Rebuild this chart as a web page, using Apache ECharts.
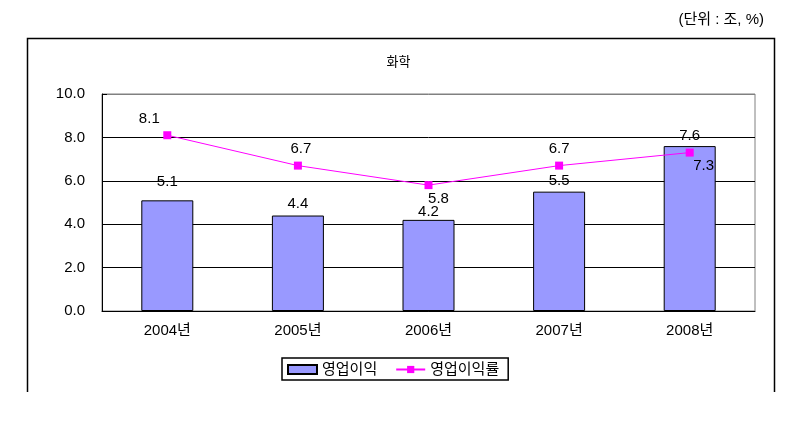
<!DOCTYPE html>
<html><head><meta charset="utf-8">
<script src="https://cdn.jsdelivr.net/npm/echarts@6/dist/echarts.min.js"></script>
<style>html,body{margin:0;padding:0;background:#fff}#c{width:797px;height:429px}</style>
</head><body><div id="c"></div>
<script>
const categories = ['2004년', '2005년', '2006년', '2007년', '2008년'];
const profit = [5.1, 4.4, 4.2, 5.5, 7.6];
const profitRate = [8.1, 6.7, 5.8, 6.7, 7.3];
const chartTitle = '화학';
const unitText = '(단위 : 조, %)';
const seriesNames = ['영업이익', '영업이익률'];

const FONT = '"Liberation Sans", "Noto Sans CJK KR", sans-serif';
const chart = echarts.init(document.getElementById('c'));

const barLabelOffsets = [[0, -6], [0, 1], [0, 4], [0, 2], [0, 2]];
const lineLabelCfg = [
  {position: 'top', offset: [-18, 0]},
  {position: 'top', offset: [3, 0]},
  {position: 'bottom', offset: [10, -3]},
  {position: 'top', offset: [0, 0]},
  {position: 'bottom', offset: [14, -3]}
];

chart.setOption({
  animation: false,
  textStyle: {fontFamily: FONT},
  title: [
    {text: chartTitle, left: 'center', top: 51, textStyle: {fontSize: 13, fontWeight: 'normal', color: '#000', fontFamily: FONT}},
    {text: unitText, right: 28, top: 7, textStyle: {fontSize: 15, fontWeight: 'normal', color: '#000', fontFamily: FONT}}
  ],
  graphic: [{
    type: 'polyline',
    shape: {points: [[27.5, 392], [27.5, 38.5], [774.5, 38.5], [774.5, 392]]},
    style: {stroke: '#000', lineWidth: 1.5, fill: null}
  }],
  grid: {left: 102, right: 42, top: 94, bottom: 118, show: true, borderColor: '#808080', borderWidth: 1},
  legend: {
    left: 282, top: 358,
    borderColor: '#000', borderWidth: 1.5,
    padding: [4, 9, 3, 5],
    itemGap: 18, itemWidth: 29, itemHeight: 9,
    textStyle: {fontSize: 15, color: '#000', fontFamily: FONT},
    data: [
      {name: seriesNames[0], icon: 'rect'},
      {name: seriesNames[1]}
    ]
  },
  xAxis: {
    type: 'category', data: categories,
    axisLine: {lineStyle: {color: '#000', width: 1}},
    axisTick: {inside: true, length: 5, lineStyle: {color: '#000'}},
    axisLabel: {color: '#000', fontSize: 15, margin: 12, fontFamily: FONT}
  },
  yAxis: {
    type: 'value', min: 0, max: 10, interval: 2,
    axisLine: {show: true, lineStyle: {color: '#000'}},
    axisTick: {show: true, inside: true, length: 5, lineStyle: {color: '#000'}},
    axisLabel: {color: '#000', fontSize: 15, margin: 17, fontFamily: FONT, formatter: v => v.toFixed(1)},
    splitLine: {lineStyle: {color: ['#000', '#000', '#000', '#000', '#000', '#808080'], width: 1}}
  },
  series: [
    {
      name: seriesNames[0], type: 'bar', barWidth: 52,
      itemStyle: {color: '#9999ff', borderColor: '#000', borderWidth: 1},
      data: profit.map((v, i) => ({value: v, label: {offset: barLabelOffsets[i]}})),
      label: {show: true, position: 'top', color: '#000', fontSize: 15, fontFamily: FONT, formatter: p => p.value.toFixed(1)}
    },
    {
      name: seriesNames[1], type: 'line', symbol: 'rect', symbolSize: 8,
      lineStyle: {color: '#ff00ff', width: 1},
      itemStyle: {color: '#ff00ff'},
      data: profitRate.map((v, i) => ({value: v, label: lineLabelCfg[i]})),
      label: {show: true, color: '#000', fontSize: 15, fontFamily: FONT, formatter: p => p.value.toFixed(1)},
      z: 5
    }
  ]
});
</script></body></html>
